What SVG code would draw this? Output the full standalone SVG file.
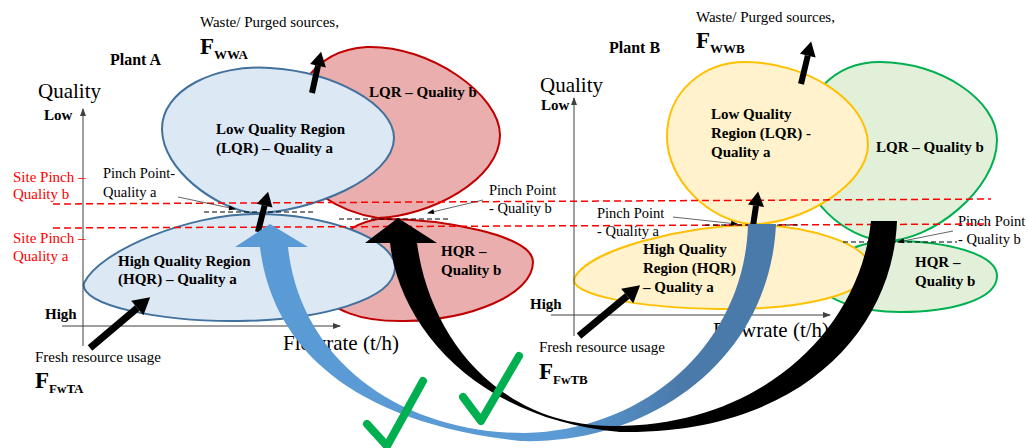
<svg xmlns="http://www.w3.org/2000/svg" width="1028" height="448" viewBox="0 0 1028 448">
<style>
text{font-family:"Liberation Serif","Times New Roman",serif;fill:#000}
.b{font-weight:bold}
.lbl{font-size:15px;font-weight:bold}
.sm{font-size:14.5px}
.red{fill:#FF0000;font-size:15px}
.big{font-size:21px}
.F{font-size:23px;font-weight:bold}
.sub{font-size:13px;font-weight:bold}
.blueR{fill:#DDE8F5;stroke:#41719C;stroke-width:2}
.redR{fill:#E9AEAD;stroke:#C00000;stroke-width:2}
.yelR{fill:#FFF2CC;stroke:#FFC000;stroke-width:2}
.grnR{fill:#E2F0D9;stroke:#00B050;stroke-width:2}
.axis{stroke:#404040;stroke-width:1;fill:none}
.rdash{stroke:#FF0000;stroke-width:1.5;stroke-dasharray:7 4;fill:none}
.kdash{stroke:#000;stroke-width:1.2;stroke-dasharray:5 3;fill:none}
.blk{stroke:#000;fill:none}
.ptr{stroke:#404040;stroke-width:0.8;fill:none}
.chk{stroke:#00B050;stroke-width:8;fill:none;stroke-linecap:round;stroke-linejoin:round}
</style>
<defs>
<marker id="ah" markerWidth="3" markerHeight="3" refX="0" refY="1.35" orient="auto" markerUnits="strokeWidth" overflow="visible">
<path d="M0,0 L2.4,1.35 L0,2.7 Z" fill="#000"/>
</marker>
<marker id="ax" markerWidth="8" markerHeight="8" refX="7" refY="3" orient="auto" markerUnits="userSpaceOnUse" overflow="visible">
<path d="M0,0 L8,3 L0,6 Z" fill="#404040"/>
</marker>
<marker id="pt" markerWidth="8" markerHeight="8" refX="6" refY="2.5" orient="auto" markerUnits="userSpaceOnUse" overflow="visible">
<path d="M0,0 L7,2.5 L0,5 Z" fill="#000"/>
</marker>
<linearGradient id="bg" gradientUnits="userSpaceOnUse" x1="560" y1="0" x2="680" y2="0">
<stop offset="0" stop-color="#5B9BD5"/>
<stop offset="1" stop-color="#4A7AAA"/>
</linearGradient>
</defs>

<!-- Plant A regions -->
<g id="plantA-LQR-b"><path class="redR" d="M378 218 C340 212,300 190,290 150 C285 100,310 50,367 47 C430 45,500 95,500 135 C500 180,430 216,378 218 Z"/></g>
<g id="plantA-HQR-b"><path class="redR" d="M378 219 C440 218,533 235,533 262 C533 295,470 320,405 321 C360 322,330 310,320 290 C310 260,340 225,378 219 Z"/></g>
<g id="plantA-LQR-a"><path class="blueR" d="M253 213 C215 208,163 170,162 130 C161 90,215 64,270 68 C335 72,394 105,394 138 C394 178,310 213,253 213 Z"/></g>
<g id="plantA-HQR-a"><path class="blueR" d="M84 283 C100 250,190 214,255 214 C330 214,396 240,395 268 C394 300,320 320,240 321 C160 322,78 305,84 283 Z"/></g>

<!-- Plant B regions -->
<g id="plantB-LQR-b"><path class="grnR" d="M885 241 C845 238,800 200,800 150 C800 95,835 62,880 62 C940 62,997 100,997 140 C997 190,930 242,885 241 Z"/></g>
<g id="plantB-HQR-b"><path class="grnR" d="M885 241 C950 240,997 255,997 276 C997 300,950 312,900 312 C860 312,825 300,820 285 C815 265,850 243,885 241 Z"/></g>
<g id="plantB-LQR-a"><path class="yelR" d="M752 224 C710 222,667 180,667 137 C667 90,705 62,745 62 C805 62,868 100,868 145 C868 185,800 225,752 224 Z"/></g>
<g id="plantB-HQR-a"><path class="yelR" d="M575 277 C590 250,680 226,752 225 C810 225,870 245,870 268 C870 295,800 310,720 309 C640 308,565 295,575 277 Z"/></g>

<!-- Axes -->
<g id="axesA">
<line class="axis" x1="83" y1="346" x2="83" y2="109" marker-end="url(#ax)"/>
<line class="axis" x1="62" y1="326" x2="340" y2="326" marker-end="url(#ax)"/>
</g>
<g id="axesB">
<line class="axis" x1="574" y1="336" x2="574" y2="98" marker-end="url(#ax)"/>
<line class="axis" x1="551" y1="315" x2="830" y2="315" marker-end="url(#ax)"/>
</g>

<!-- Texts Plant A -->
<g id="textsA">
<text x="200" y="27" style="font-size:15px">Waste/ Purged sources,</text>
<text x="200" y="54" class="F">F<tspan class="sub" dy="5">WWA</tspan></text>
<text x="110" y="65" style="font-size:16px" class="b">Plant A</text>
<text x="38" y="98" class="big">Quality</text>
<text x="44" y="120" class="lbl">Low</text>
<text x="45" y="319" class="lbl">High</text>
<text x="216" y="134" class="lbl">Low Quality Region</text>
<text x="216" y="153" class="lbl">(LQR) – Quality a</text>
<text x="369" y="97" class="lbl">LQR – Quality b</text>
<text x="118" y="266" class="lbl">High Quality Region</text>
<text x="118" y="284" class="lbl">(HQR) – Quality a</text>
<text x="441" y="256" class="lbl">HQR –</text>
<text x="441" y="275" class="lbl">Quality b</text>
<text x="13" y="182" class="red">Site Pinch –</text>
<text x="13" y="199" class="red">Quality b</text>
<text x="13" y="243" class="red">Site Pinch –</text>
<text x="13" y="261" class="red">Quality a</text>
<text x="103" y="178" class="sm">Pinch Point-</text>
<text x="103" y="197" class="sm">Quality a</text>
<text x="489" y="195" class="sm">Pinch Point</text>
<text x="489" y="213" class="sm">- Quality b</text>
<text x="283" y="350" class="big">Flowrate (t/h)</text>
<text x="35" y="362" style="font-size:15px">Fresh resource usage</text>
<text x="35" y="388" class="F">F<tspan class="sub" dy="5">FwTA</tspan></text>
</g>

<!-- Texts Plant B -->
<g id="textsB">
<text x="696" y="22" style="font-size:15px">Waste/ Purged sources,</text>
<text x="696" y="48" class="F">F<tspan class="sub" dy="5">WWB</tspan></text>
<text x="609" y="53" style="font-size:16px" class="b">Plant B</text>
<text x="540" y="92" class="big">Quality</text>
<text x="541" y="110" class="lbl">Low</text>
<text x="530" y="309" class="lbl">High</text>
<text x="711" y="119" class="lbl">Low Quality</text>
<text x="711" y="138" class="lbl">Region (LQR) -</text>
<text x="711" y="157" class="lbl">Quality a</text>
<text x="876" y="152" class="lbl">LQR – Quality b</text>
<text x="643" y="254" class="lbl">High Quality</text>
<text x="643" y="273" class="lbl">Region (HQR)</text>
<text x="643" y="292" class="lbl">– Quality a</text>
<text x="915" y="267" class="lbl">HQR –</text>
<text x="915" y="286" class="lbl">Quality b</text>
<text x="597" y="218" class="sm">Pinch Point</text>
<text x="597" y="236" class="sm">- Quality a</text>
<text x="958" y="226" class="sm">Pinch Point</text>
<text x="958" y="244" class="sm">- Quality b</text>
<text x="713" y="337" class="big">Flowrate (t/h)</text>
<text x="539" y="352" style="font-size:15px">Fresh resource usage</text>
<text x="539" y="379" class="F">F<tspan class="sub" dy="5">FwTB</tspan></text>
</g>

<!-- Connectors -->
<g id="connectors">
<line class="rdash" x1="53" y1="204" x2="991" y2="199"/>
<line class="rdash" x1="53" y1="228" x2="990" y2="224"/>
<line class="kdash" x1="204" y1="212" x2="316" y2="212"/>
<line class="kdash" x1="339" y1="219" x2="450" y2="219"/>
<line class="kdash" x1="705" y1="225" x2="800" y2="225"/>
<line class="kdash" x1="843" y1="242" x2="957" y2="242"/>

<line class="ptr" x1="178" y1="197" x2="235" y2="209" marker-end="url(#pt)"/>
<line class="ptr" x1="483" y1="200" x2="428" y2="213" marker-end="url(#pt)"/>
<line class="ptr" x1="673" y1="217" x2="737" y2="224" marker-end="url(#pt)"/>
<line class="ptr" x1="953" y1="231" x2="898" y2="242" marker-end="url(#pt)"/>

<line class="blk" stroke-width="6" x1="312" y1="93" x2="318" y2="65.7" marker-end="url(#ah)"/>
<line class="blk" stroke-width="6" x1="258" y1="232" x2="264.6" y2="205.6" marker-end="url(#ah)"/>
<line class="blk" stroke-width="6" x1="801" y1="84" x2="807.8" y2="55.6" marker-end="url(#ah)"/>
<line class="blk" stroke-width="6" x1="753" y1="226" x2="756" y2="205.8" marker-end="url(#ah)"/>
<line class="blk" stroke-width="7" x1="90" y1="348" x2="137.3" y2="308" marker-end="url(#ah)"/>
<line class="blk" stroke-width="7" x1="579" y1="336" x2="627.2" y2="296" marker-end="url(#ah)"/>

<path d="M260 247 C270 330,330 420,520 441 C650 445,770 360,776 224 L748 224 C745 340,650 430,525 433 C400 433,300 360,288 247 L308 247 L270 224 L235 247 Z" fill="url(#bg)"/>
<path d="M390 243 C400 330,480 420,620 432 C800 435,893 330,897 221 L871 221 C860 330,760 428,610 426 C500 424,430 340,417 243 L437 243 L398 218 L365 243 Z" fill="#000"/>
</g>

<g id="checks">
<path class="chk" d="M367 424 L387 446 L423 381"/>
<path class="chk" d="M463 397 L481 421 L519 356"/>
</g>
</svg>
